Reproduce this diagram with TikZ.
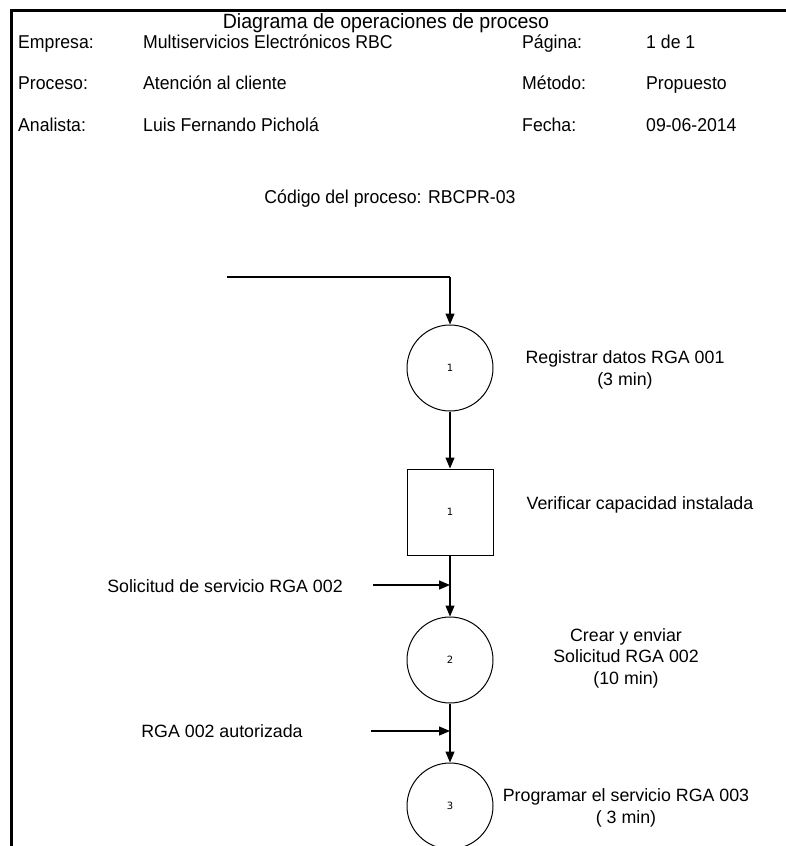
\documentclass[tikz,border=0pt]{standalone}
\usepackage{fontspec}
\setmainfont{Liberation Sans}
\newfontfamily\headfont[FakeStretch=0.95]{Liberation Sans}
\newfontfamily\numfont{DejaVu Sans}
\usetikzlibrary{arrows.meta}

\tikzset{
  frame/.style={line width=3pt},
  flow/.style={line width=1.2pt, -{Triangle[length=11pt,width=9pt]}},
  plain/.style={line width=1.2pt},
  opcircle/.style={circle, draw, line width=1pt, minimum size=86pt, inner sep=0pt,
                   font=\numfont\fontsize{10}{12}\selectfont},
  opsquare/.style={rectangle, draw, line width=1pt, minimum size=86pt, inner sep=0pt,
                   font=\numfont\fontsize{10}{12}\selectfont},
  headtitle/.style={anchor=base, inner sep=0pt, font=\headfont\fontsize{20.6}{25}\selectfont},
  headtext/.style={anchor=base west, inner sep=0pt, font=\headfont\fontsize{18.6}{22}\selectfont},
  codetext/.style={anchor=base, inner sep=0pt, font=\headfont\fontsize{18.6}{22}\selectfont},
  label/.style={inner sep=0pt, align=center, font=\fontsize{17.8}{21.5}\selectfont},
}

\begin{document}
\begin{tikzpicture}[x=1pt, y=-1pt]
  \useasboundingbox (0,0) rectangle (786,846);

  % sheet frame (top and left edges)
  \draw[frame] (786,10.5) -- (11.5,10.5) -- (11.5,846);

  % header
  \node[headtitle] (title) at (386,28.5) {Diagrama de operaciones de proceso};

  \node[headtext] (k1) at (18,48)  {Empresa:};
  \node[headtext] (v1) at (143,48) {Multiservicios Electrónicos RBC};
  \node[headtext] (k2) at (522,48) {Página:};
  \node[headtext] (v2) at (646,48) {1 de 1};

  \node[headtext] (k3) at (18,89)  {Proceso:};
  \node[headtext] (v3) at (143,89) {Atención al cliente};
  \node[headtext] (k4) at (522,89) {Método:};
  \node[headtext] (v4) at (646,89) {Propuesto};

  \node[headtext] (k5) at (18,131)  {Analista:};
  \node[headtext] (v5) at (143,131) {Luis Fernando Picholá};
  \node[headtext] (k6) at (522,131) {Fecha:};
  \node[headtext] (v6) at (646,131) {09-06-2014};

  \node[codetext] (code) at (390,203) {Código del proceso: RBCPR-03};

  % process symbols
  \node[opcircle] (op1) at (450,368) {1};
  \node[opsquare] (in1) at (450,512) {1};
  \node[opcircle] (op2) at (450,660) {2};
  \node[opcircle] (op3) at (450,806) {3};

  % descriptions
  \node[label] (d1) at (625,370) {Registrar datos RGA 001\\(3 min)};
  \node[label] (d2) at (640,505) {Verificar capacidad instalada};
  \node[label] (d3) at (626,658) {Crear y enviar\\Solicitud RGA 002\\(10 min)};
  \node[label] (d4) at (626,808) {Programar el servicio RGA 003\\( 3 min)};

  \node[label] (e1) at (225,586) {Solicitud de servicio RGA 002};
  \node[label] (e2) at (222,731) {RGA 002 autorizada};

  % connection points
  \coordinate (start) at (227,277);
  \coordinate (bend) at (450,277);
  \coordinate (j1) at (450,585);
  \coordinate (j2) at (450,731);
  \coordinate (s1) at (373,585);
  \coordinate (s2) at (371,731);

  % flow lines
  \draw[plain] (start) -- (bend);
  \draw[flow] (bend) -- (op1.north);
  \draw[flow] (op1.south) -- (in1.north);
  \draw[flow] (in1.south) -- (op2.north);
  \draw[flow] (op2.south) -- (op3.north);

  % incoming inputs
  \draw[flow] (s1) -- (j1);
  \draw[flow] (s2) -- (j2);
\end{tikzpicture}
\end{document}
